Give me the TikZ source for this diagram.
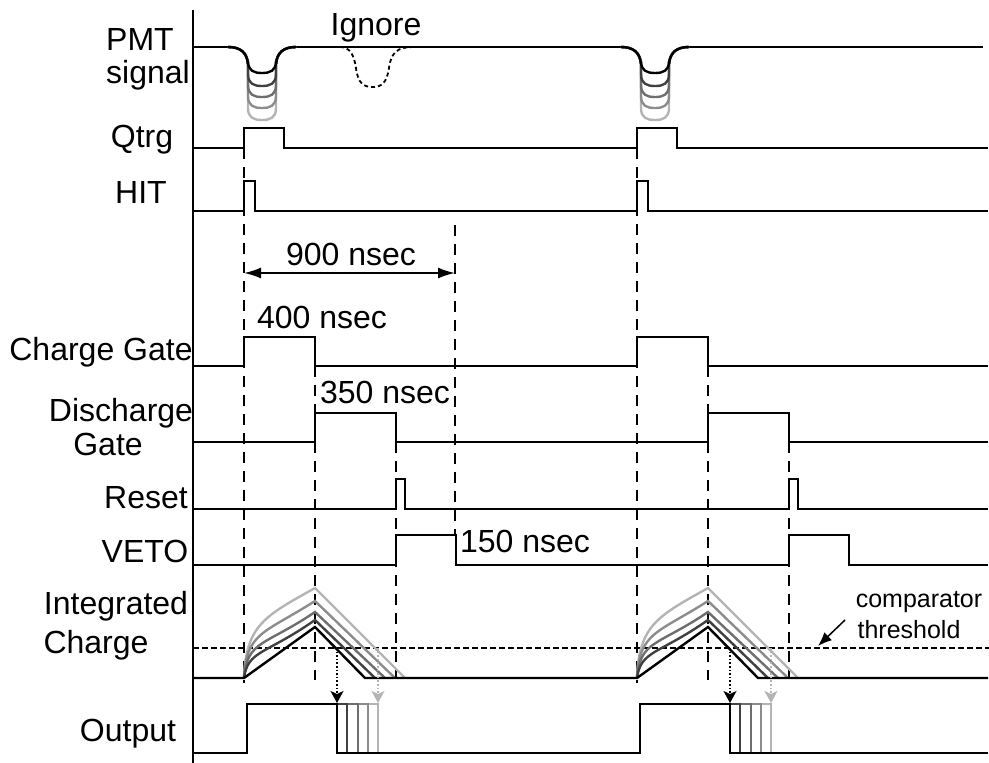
\documentclass[tikz,border=0pt]{standalone}
\usepackage{fontspec}
\setmainfont{Liberation Sans}
\usetikzlibrary{arrows.meta}
\definecolor{ga}{HTML}{404040}
\definecolor{gb}{HTML}{6E6E6E}
\definecolor{gc}{HTML}{8C8C8C}
\definecolor{gd}{HTML}{B4B4B4}
\begin{document}
\begin{tikzpicture}[x=1pt,y=-1pt,
  sig/.style={line width=2.4pt},
  guide/.style={line width=1.2pt, dash pattern=on 11pt off 8pt},
  lbl/.style={inner sep=0pt, anchor=base, font=\fontsize{32}{32}\selectfont},
  small/.style={inner sep=0pt, anchor=base, font=\fontsize{25}{25}\selectfont},
  dotarrow/.style={line width=1.6pt, dotted, -{Stealth[length=12pt,width=13pt,inset=3pt]}}]
\useasboundingbox (0,0) rectangle (989,763);
% axis
\draw[line width=1.3pt] (193,10) -- (193,763);
% labels
\node[lbl] (pmt) at (140,50) {PMT};
\node[lbl] (signal) at (148,83) {signal};
\node[lbl] (qtrg) at (142,147) {Qtrg};
\node[lbl] (hit) at (141,203) {HIT};
\node[lbl] (cg) at (101,360) {Charge Gate};
\node[lbl] (dg1) at (121,421) {Discharge};
\node[lbl] (dg2) at (108,455) {Gate};
\node[lbl] (reset) at (146,508) {Reset};
\node[lbl] (veto) at (145,562) {VETO};
\node[lbl] (ic1) at (116,614) {Integrated};
\node[lbl] (ic2) at (96,653) {Charge};
\node[lbl] (out) at (128,741) {Output};
\node[lbl] (ignore) at (376,35) {Ignore};
\node[lbl] (t400) at (322,328) {400 nsec};
\node[lbl] (t350) at (385,403) {350 nsec};
\node[lbl] (t150) at (525,552) {150 nsec};
\node[lbl] (t900) at (351,265) {900 nsec};
\node[small] (comp) at (919,607) {comparator};
\node[small] (thr) at (909,638) {threshold};
% guides
\foreach \o in {0,393} {
  \draw[guide] (244+\o,148) -- (244+\o,683);
  \draw[guide] (315+\o,366) -- (315+\o,680);
  \draw[guide] (396+\o,442) -- (396+\o,678);
}
\draw[guide] (455,225) -- (455,535);
% 900 nsec arrow
\coordinate (a900l) at (244,273);
\coordinate (a900r) at (455,273);
\draw[line width=1.8pt, {Latex[length=17pt,width=11pt]}-{Latex[length=17pt,width=11pt]}] (a900l) -- (a900r);
% PMT signal
\draw[sig] (193,47) -- (228,47) (296,47) -- (621,47) (689,47) -- (983,47);
\foreach \o in {0,393} {
  \foreach \yb/\c in {120/gd,108/gc,97/gb,86/ga,73/black} {
    \draw[sig, draw=\c] (228+\o,47) .. controls (241+\o,47) and (247+\o,53) .. (248+\o,64)
      -- (248+\o,\yb-12) .. controls (248+\o,\yb-2) and (254+\o,\yb) .. (262+\o,\yb)
      .. controls (270+\o,\yb) and (276+\o,\yb-2) .. (276+\o,\yb-12)
      -- (276+\o,64) .. controls (277+\o,53) and (283+\o,47) .. (296+\o,47);
  }
}
\draw[line width=1.8pt, dash pattern=on 4pt off 3pt] (340,47) .. controls (350,47) and (354,55) .. (356,68)
  .. controls (358,84) and (364,87) .. (373,87) .. controls (382,87) and (387,82) .. (389,68)
  .. controls (391,52) and (398,47) .. (413,47);
% Qtrg
\draw[sig] (193,148) -- (244,148) -- (244,128) -- (284,128) -- (284,148) -- (637,148) -- (637,128) -- (677,128) -- (677,148) -- (988,148);
% HIT
\draw[sig] (193,211) -- (244,211) -- (244,181) -- (255,181) -- (255,211) -- (637,211) -- (637,181) -- (648,181) -- (648,211) -- (988,211);
% Charge gate
\draw[sig] (193,366) -- (244,366) -- (244,337) -- (315,337) -- (315,366) -- (637,366) -- (637,337) -- (708,337) -- (708,366) -- (988,366);
% Discharge gate
\draw[sig] (193,442) -- (315,442) -- (315,413) -- (396,413) -- (396,442) -- (708,442) -- (708,413) -- (789,413) -- (789,442) -- (988,442);
% Reset
\draw[sig] (193,509) -- (396,509) -- (396,479) -- (405,479) -- (405,509) -- (789,509) -- (789,479) -- (798,479) -- (798,509) -- (988,509);
% VETO
\draw[sig] (193,565) -- (396,565) -- (396,535) -- (456,535) -- (456,565) -- (789,565) -- (789,535) -- (849,535) -- (849,565) -- (988,565);
% threshold
\draw[line width=2pt, dash pattern=on 6pt off 3pt] (193,648) -- (989,648);
\coordinate (cmptail) at (845,620);
\coordinate (cmptip) at (818,646);
\draw[line width=1.5pt, -{Latex[length=14pt,width=11pt]}] (cmptail) -- (cmptip);
% Integrated charge
\foreach \o in {0,393} {
  \draw[sig, draw=gd] (244+\o,678) .. controls (246+\o,625) and (265+\o,616) .. (315+\o,588) -- (405+\o,678);
  \draw[sig, draw=gc] (244+\o,678) .. controls (246+\o,632) and (265+\o,633) .. (315+\o,601) -- (395+\o,678);
  \draw[sig, draw=gb] (244+\o,678) .. controls (247+\o,640) and (265+\o,646) .. (315+\o,612) -- (385+\o,678);
  \draw[sig, draw=ga] (244+\o,678) .. controls (248+\o,650) and (265+\o,655) .. (315+\o,620) -- (375+\o,678);
}
\draw[sig] (193,678) -- (244,678) -- (315,627) -- (365,678) -- (637,678) -- (708,627) -- (758,678) -- (988,678);
% Output
\foreach \o in {0,393} {
  \foreach \x/\c in {378/gd,368/gc,358/gb,347/ga} {
    \draw[sig, draw=\c] (337+\o,704) -- (\x+\o,704) -- (\x+\o,753);
  }
}
\draw[sig] (193,753) -- (247,753) -- (247,704) -- (337,704) -- (337,753) -- (640,753) -- (640,704) -- (730,704) -- (730,753) -- (988,753);
% dotted arrows
\foreach \o in {0,393} {
  \coordinate (dk\o) at (337+\o,648);
  \coordinate (dke\o) at (337+\o,703);
  \coordinate (dg\o) at (378+\o,648);
  \coordinate (dge\o) at (378+\o,703);
  \draw[dotarrow, gd] (dg\o) -- (dge\o);
  \draw[dotarrow, black] (dk\o) -- (dke\o);
}
\end{tikzpicture}
\end{document}
